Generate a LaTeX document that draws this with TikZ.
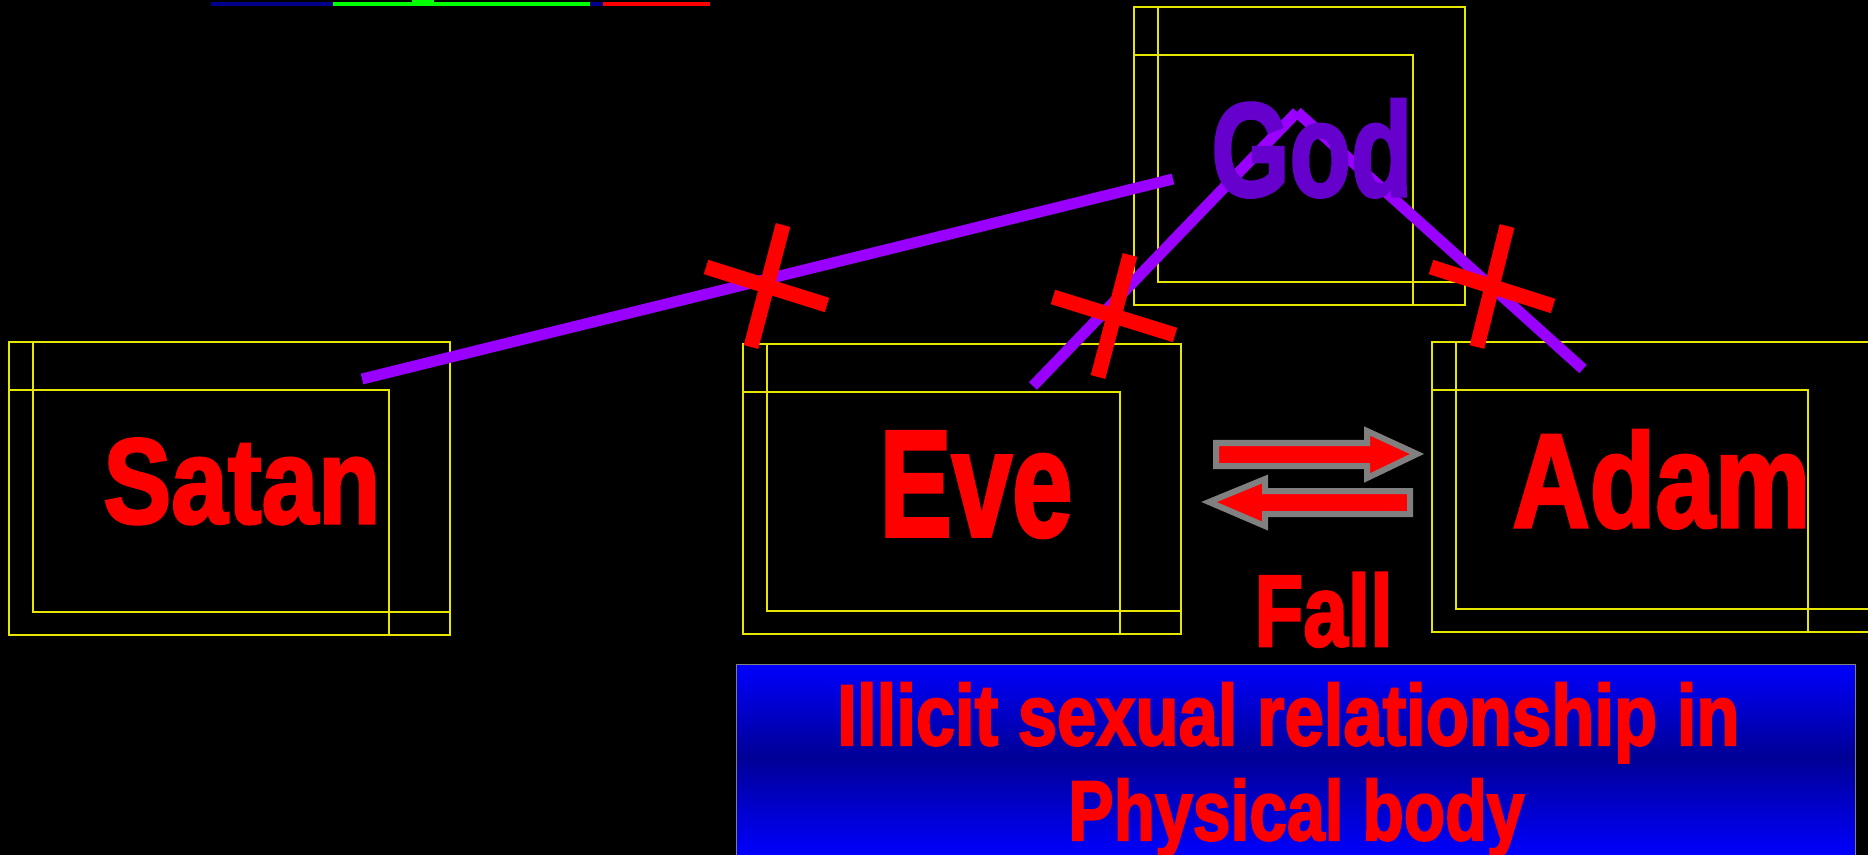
\documentclass[tikz,border=0pt]{standalone}
\usepackage{fontspec}
\setmainfont{Liberation Sans}[BoldFeatures={FakeBold=2.5}]
\usepackage{graphicx}

\definecolor{framey}{RGB}{230,230,0}
\definecolor{linkpurple}{RGB}{153,0,255}
\definecolor{godpurple}{RGB}{102,0,204}
\definecolor{boxblue}{RGB}{0,0,255}
\definecolor{boxnavy}{RGB}{0,0,150}
\definecolor{barnavy}{RGB}{0,0,140}
\definecolor{bargreen}{RGB}{0,255,0}

\newlength\unitpx
\setlength\unitpx{0.5pt}
\newlength\fsz
% width in px, cap height in px, text
\newcommand{\fitword}[3]{\setlength\fsz{\dimexpr #2\unitpx*25/18\relax}%
  \resizebox{#1\unitpx}{\height}{\fontsize{\fsz}{\fsz}\selectfont\bfseries #3}}

\tikzset{
  frame/.style={draw=framey, line width=0.75pt},
  link/.style={draw=linkpurple, line width=5.5pt},
  cross/.style={draw=red, line width=7.5pt},
  word/.style={inner sep=0pt, text=red, anchor=base west},
  fallarrow/.style={fill=red, draw=gray, line width=3pt, line join=miter},
}

\begin{document}
\begin{tikzpicture}[x=0.5pt, y=-0.5pt]
  \useasboundingbox (0,0) rectangle (1868,855);
  \fill[black] (0,0) rectangle (1868,855);

  % bar at the top
  \fill[barnavy] (211,2.5) rectangle (333,6.5);
  \fill[bargreen] (333,2.5) rectangle (590,6.5);
  \fill[bargreen] (412,0) rectangle (434,3);
  \fill[barnavy] (590,2.5) rectangle (603,6.5);
  \fill[red] (603,2.5) rectangle (710,6.5);

  % frames round the names
  \foreach \xa/\ya/\xb/\yb/\xc in {9/342/450/635/389, 743/344/1181/634/1120,
      1134/7/1465/305/1413, 1432/342/1872/632/1808} {
    \draw[frame] (\xa,\ya) rectangle (\xb,\yb);
    \draw[frame] (\xa+24,\ya) rectangle (\xb,\yb-23);
    \draw[frame] (\xa,\ya+48) rectangle (\xc,\yb);
  }

  % ends of the links
  \coordinate (satanEnd) at (362,379);
  \coordinate (godLeft) at (1173,179);
  \coordinate (eveEnd) at (1033,386);
  \coordinate (godTop) at (1297,112);
  \coordinate (adamEnd) at (1583,369);

  \draw[link] (satanEnd) -- (godLeft);
  \draw[link] (eveEnd) -- (godTop);
  \draw[link] (godTop) -- (adamEnd);

  % names
  \node[word] (satan) at (103,523) {\fitword{277}{87}{Satan}};
  \node[word] (eve) at (879,536) {\fitword{193}{109}{Eve}};
  \node[word] (adam) at (1512,527) {\fitword{298}{96}{Adam}};
  \node[word, text=godpurple] (god) at (1211,196) {\fitword{201}{96}{God}};

  % broken links
  \draw[cross] (706,267) -- (827,305);
  \draw[cross] (783,225) -- (751,347);
  \draw[cross] (1053,297) -- (1175,335);
  \draw[cross] (1130,255) -- (1098,377);
  \draw[cross] (1431,267) -- (1553,306);
  \draw[cross] (1507,226) -- (1477,347);

  % arrows between Eve and Adam
  \draw[fallarrow] (1216,443) -- (1367,443) -- (1367,431) -- (1417,454)
    -- (1367,478) -- (1367,466) -- (1216,466) -- cycle;
  \draw[fallarrow] (1410,491) -- (1265,491) -- (1265,479) -- (1209,502)
    -- (1265,526) -- (1265,514) -- (1410,514) -- cycle;
  \node[word] (fall) at (1254,646) {\fitword{138}{73}{Fall}};

  % caption box
  \shade[top color=boxblue, bottom color=boxnavy] (736,664) rectangle (1855,757);
  \shade[top color=boxnavy, bottom color=boxblue] (736,757) rectangle (1855,857);
  \draw[gray, line width=0.5pt] (736,857) |- (1855,664) -- (1855,857);
  \node[word] (lineone) at (837,745) {\fitword{902}{62}{Illicit sexual relationship in}};
  \node[word] (linetwo) at (1068,840) {\fitword{456}{61}{Physical body}};
\end{tikzpicture}
\end{document}
